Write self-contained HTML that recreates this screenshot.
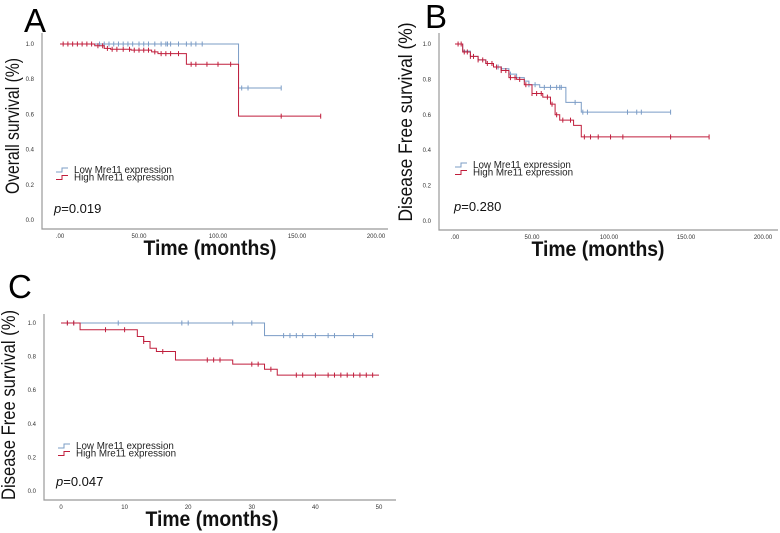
<!DOCTYPE html>
<html><head><meta charset="utf-8"><style>
body{margin:0;background:#fff;width:780px;height:533px;overflow:hidden}
svg{display:block}
text{font-family:"Liberation Sans",Arial,sans-serif}
</style></head><body>
<svg id="fig" width="780" height="533" xmlns="http://www.w3.org/2000/svg"></svg>
<script>
// Panel A data
const aLowT=[0,113,140];
const aLowS=[1.0,0.75,0.75];
const aLowCens=[25,28,31,34,37,40,43,46,50,53,56,60,64,67,68,70,75,80,83,86,90,115,119,140];
const aHighT=[0,22,28,32,45,58,62,80,113,165];
const aHighS=[1.0,0.99,0.975,0.97,0.965,0.955,0.945,0.885,0.59,0.59];
const aHighCens=[2,5,8,11,14,17,20,24,27,30,33,36,40,44,47,50,53,56,60,64,67,70,75,83,86,93,100,108,140,165];
// Panel B data
const bLowT=[0,5,10,15,20,25,30,35,40,45,48,55,72,80,82,140];
const bLowS=[1.0,0.96,0.93,0.91,0.89,0.87,0.86,0.83,0.81,0.79,0.77,0.755,0.67,0.67,0.615,0.615];
const bLowCens=[28,30,36,48,52,58,62,66,68,69,78,83,86,112,118,121,140];
const bHighT=[0,5,10,15,20,25,30,35,40,45,50,57,62,65,68,77,82,165];
const bHighS=[1.0,0.955,0.93,0.91,0.89,0.87,0.85,0.81,0.8,0.77,0.72,0.70,0.66,0.60,0.57,0.54,0.475,0.475];
const bHighCens=[2,4,6,8,10,12,15,18,21,24,27,30,33,36,39,42,46,50,53,56,60,63,66,70,75,84,88,93,101,109,140,165];
// Panel C data
const cLowT=[0,32,49];
const cLowS=[1.0,0.925,0.925];
const cLowCens=[1,2,9,19,20,27,30,35,36,37,38,40,42,43,46,49];
const cHighT=[0,3,12,13,14,15,16,18,27,32,33,34,50];
const cHighS=[1.0,0.96,0.92,0.89,0.85,0.83,0.83,0.78,0.755,0.725,0.725,0.69,0.69];
const cHighCens=[1,2,7,10,13,16,23,24,25,30,31,33,37,38,40,42,43,44,45,46,47,48,49];

const NS='http://www.w3.org/2000/svg';
const svg=document.getElementById('fig');
const BLUE='#7b9cc6', RED='#c01e3c';
function mk(tag,attrs,parent){const e=document.createElementNS(NS,tag);for(const k in attrs)e.setAttribute(k,attrs[k]);(parent||svg).appendChild(e);return e;}

function panel(cfg){
  const g=mk('g',{});
  
  
  const xs=t=>cfg.x0+(t-cfg.tmin)/(cfg.tmax-cfg.tmin)*(cfg.x1-cfg.x0);
  const ys=s=>cfg.y0-s*(cfg.y0-cfg.y1);
  const ax=mk('path',{d:`M${cfg.ax} ${cfg.ytop}V${cfg.ab}H${cfg.axr}`,stroke:'#999',fill:'none','stroke-width':1.2},g);
  
  
  cfg.yticks.forEach(v=>{const t=mk('text',{x:cfg.ax-8,y:ys(v)+2,'font-size':6,'text-anchor':'end',fill:'#333'},g);t.textContent=v.toFixed(1);
    
    });
  cfg.xticks.forEach((v,i)=>{const t=mk('text',{x:xs(v),y:cfg.ab+9,'font-size':6,'text-anchor':'middle',fill:'#333'},g);t.textContent=cfg.xlabels[i];
    
    });
  const xt=mk('text',{x:cfg.xtx,y:cfg.ab+26,'font-size':21,'font-weight':'bold','text-anchor':'middle',fill:'#111',textLength:133,lengthAdjust:'spacingAndGlyphs'},g);xt.textContent='Time (months)';
  
  
  const yt=mk('text',{transform:`translate(${cfg.ytx},${cfg.yty}) rotate(-90)`,'font-size':19,'text-anchor':'middle',fill:'#111',textLength:cfg.ylen,lengthAdjust:'spacingAndGlyphs'},g);yt.textContent=cfg.ytitle;
  
  
  const L=mk('text',{x:cfg.lx,y:cfg.ly,'font-size':33,fill:'#000'},g);L.textContent=cfg.id;
  
  
  function curve(T,S,C,col,name){
    let d=`M${xs(T[0])} ${ys(S[0])}`;
    for(let i=1;i<T.length;i++){d+=`H${xs(T[i])}V${ys(S[i])}`;}
    const p=mk('path',{d,stroke:col,fill:'none','stroke-width':1},g);
    
    
    C.forEach(t=>{let s=S[0];for(let i=0;i<T.length;i++)if(T[i]<=t)s=S[i];
      const m=mk('path',{d:`M${xs(t)} ${ys(s)-2.5}v5`,stroke:col,'stroke-width':1},g);
      
      });
  }
  curve(cfg.lowT,cfg.lowS,cfg.lowC,BLUE,'low-mre11');
  curve(cfg.highT,cfg.highS,cfg.highC,RED,'high-mre11');
  const lg=mk('g',{},g);
  
  
  [['Low Mre11 expression',BLUE],['High Mre11 expression',RED]].forEach((e,i)=>{
    const y=cfg.legy+i*7.5;
    mk('path',{d:`M${cfg.legx} ${y+2}h6v-4h6`,stroke:e[1],fill:'none','stroke-width':1},lg);
    const t=mk('text',{x:cfg.legx+18,y:y+3,'font-size':9.8,fill:'#222'},lg);t.textContent=e[0];
    
    
  });
  const p=mk('text',{x:cfg.px,y:cfg.py,'font-size':13,fill:'#111'},g);
  p.innerHTML='<tspan font-style="italic">p</tspan>='+cfg.pval;
  
  
}
const yt=[0,0.2,0.4,0.6,0.8,1.0];
panel({id:'A',tmin:0,tmax:200,x0:60,x1:376,y0:220,y1:44,ax:42,axr:388,ab:229,ytop:33,
  yticks:yt,xticks:[0,50,100,150,200],xlabels:['.00','50.00','100.00','150.00','200.00'],
  xtx:210,ytx:19,yty:126,ylen:136,ytitle:'Overall survival (%)',lx:24,ly:32,
  lowT:aLowT,lowS:aLowS,lowC:aLowCens,highT:aHighT,highS:aHighS,highC:aHighCens,
  legx:56,legy:170,px:54,py:213,pval:'0.019'});
panel({id:'B',tmin:0,tmax:200,x0:455,x1:763,y0:221,y1:44,ax:439,axr:778,ab:230,ytop:33,
  yticks:yt,xticks:[0,50,100,150,200],xlabels:['.00','50.00','100.00','150.00','200.00'],
  xtx:598,ytx:412,yty:122,ylen:199,ytitle:'Disease Free survival (%)',lx:425,ly:28,
  lowT:bLowT,lowS:bLowS,lowC:bLowCens,highT:bHighT,highS:bHighS,highC:bHighCens,
  legx:455,legy:165,px:454,py:211,pval:'0.280'});
panel({id:'C',tmin:0,tmax:50,x0:61,x1:379,y0:491,y1:323,ax:44,axr:396,ab:500,ytop:314,
  yticks:yt,xticks:[0,10,20,30,40,50],xlabels:['0','10','20','30','40','50'],
  xtx:212,ytx:15,yty:405,ylen:190,ytitle:'Disease Free survival (%)',lx:8,ly:298,
  lowT:cLowT,lowS:cLowS,lowC:cLowCens,highT:cHighT,highS:cHighS,highC:cHighCens,
  legx:58,legy:446,px:56,py:486,pval:'0.047'});
</script>
</body></html>
